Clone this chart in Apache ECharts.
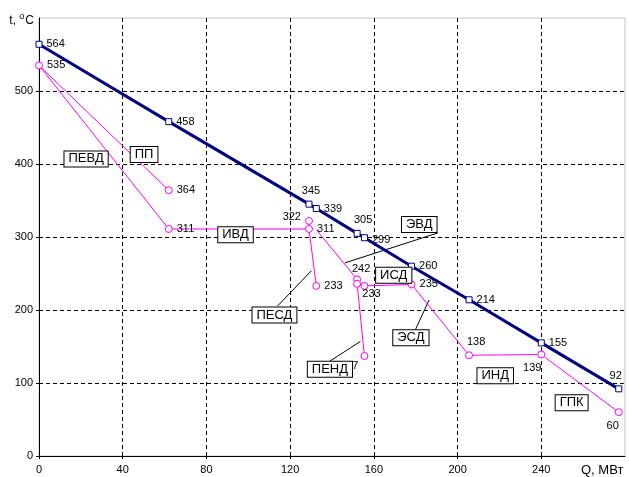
<!DOCTYPE html>
<html><head><meta charset="utf-8">
<script src="https://cdn.jsdelivr.net/npm/echarts@6/dist/echarts.min.js"></script>
<style>html,body{margin:0;padding:0;background:#fff}#c{width:629px;height:477px}</style>
</head><body><div id="c"></div><script>
// ---- data ----
const xTickLabels = ['0','40','80','120','160','200','240','280'];
const yTickLabels = ['0','100','200','300','400','500','600'];
const mainQ = [0, 62, 129, 132.5, 152, 155.5, 178, 205.5, 240, 277];
const mainT = [564, 458, 345, 339, 305, 299, 260, 214, 155, 92];
const magQ = [0, 62, 62, 129, 129, 132.5, 152, 152, 155.5, 155.5, 178, 205.5, 240, 277];
const magT = [535, 364, 311, 311, 322, 233, 242, 236, 233, 137, 235, 138, 139, 60];
const magShowLabel = [1,1,1,1,1,1,1,0,1,1,1,1,1,1];
const paths = [[0,1],[0,2],[2,3],[4,3,5],[6,7,9],[7,8,10],[10,11],[11,12],[12,13]];
const evdLine = [[132.5,310],[152,242]];
const boxNames = ['ПЕВД','ПП','ИВД','ЭВД','ИСД','ПЕСД','ЭСД','ПЕНД','ИНД','ГПК'];
const boxQ = [22.5, 50.2, 93.9, 181.7, 169.5, 112.5, 177.7, 139, 218, 254.5];
const boxT = [407, 413, 303, 317, 247.6, 193, 162, 119, 110, 73];
const leaders = [
  [[190.6,305.6],[146.1,264.5]],
  [[114,205.5],[130.2,253.9]],
  [[139,130],[153.6,157]],
  [[180,174],[186.4,213.7]]
];
// ---- label styling ----
const mainLabelPos = ['right','right','top','right','top','right','right','right','right','top'];
const mainLabelOff = [[0,0],[0,0],[2,0],[0,0],[6,0],[0,2],[0,0],[0,0],[0,0],[-3,0]];
const magLabelPos = ['right','right','right','right','left','right','top','right','bottom','left','right','top','bottom','bottom'];
const magLabelOff = [[0,0],[0,0],[0,0],[0,0],[0,-4],[0,0],[4,3],[0,0],[7,-5],[2,10],[0,0],[7,0],[-9,0],[-6,0]];

const FONT = 'Liberation Sans, Arial, sans-serif';
const xMin = +xTickLabels[0], xMax = +xTickLabels[xTickLabels.length-1];
const xInt = +xTickLabels[1] - xMin;
const yMin = +yTickLabels[0], yMax = +yTickLabels[yTickLabels.length-1];
const yInt = +yTickLabels[1] - yMin;

const series = [];
// leader lines
leaders.forEach(l => series.push({
  type:'line', data:l, showSymbol:false, silent:true, z:3,
  lineStyle:{color:'#000', width:1}
}));
// magenta paths
paths.forEach(p => series.push({
  type:'line', data:p.map(i=>[magQ[i], magT[i]]), showSymbol:false, silent:true, z:4,
  lineStyle:{color:'#ff00ff', width:1}
}));
series.push({
  type:'line', data:evdLine, showSymbol:false, silent:true, z:4,
  lineStyle:{color:'#ff00ff', width:1}
});
// main line
series.push({
  type:'line', z:5,
  data: mainQ.map((q,i)=>({value:[q, mainT[i]], label:{position:mainLabelPos[i], offset:mainLabelOff[i]}})),
  symbol:'rect', symbolSize:6, showAllSymbol:true,
  lineStyle:{color:'#000080', width:3},
  itemStyle:{color:'#fff', borderColor:'#000080', borderWidth:1, opacity:1},
  label:{show:true, color:'#000', fontFamily:FONT, fontSize:11, distance:4, formatter:p=>String(p.value[1])}
});
// magenta points
series.push({
  type:'scatter', z:6,
  data: magQ.map((q,i)=>({value:[q, magT[i]], label:{show:!!magShowLabel[i], position:magLabelPos[i], offset:magLabelOff[i]}})),
  symbol:'circle', symbolSize:7,
  itemStyle:{color:'#fff', borderColor:'#ff00ff', borderWidth:1, opacity:1},
  label:{color:'#000', fontFamily:FONT, fontSize:11, distance:4, formatter:p=>String(p.value[1])}
});
// boxes
series.push({
  type:'scatter', z:10,
  data: boxQ.map((q,i)=>({value:[q, boxT[i]], name:boxNames[i]})),
  symbolSize:1, itemStyle:{color:'rgba(0,0,0,0)', opacity:1},
  label:{show:true, position:'inside', formatter:p=>p.name, color:'#000', fontFamily:FONT, fontSize:13,
    backgroundColor:'#fff', borderColor:'#000', borderWidth:1, padding:[1,4,0,4], lineHeight:14}
});

const chart = echarts.init(document.getElementById('c'), null, {renderer:'canvas'});
chart.setOption({
  animation:false,
  backgroundColor:'#fff',
  grid:{left:39, right:4, top:18, bottom:21, show:true, borderColor:'#c4c4c4', borderWidth:1, containLabel:false},
  xAxis:{
    type:'value', min:xMin, max:xMax, interval:xInt,
    name:'Q, МВт', nameLocation:'end', nameGap:-44,
    nameTextStyle:{align:'left', verticalAlign:'top', padding:[8,0,0,0], fontFamily:FONT, fontSize:13, color:'#000'},
    axisLine:{show:true, lineStyle:{color:'#000', width:1}},
    axisTick:{show:true, length:3, lineStyle:{color:'#000'}},
    axisLabel:{color:'#000', fontFamily:FONT, fontSize:11, margin:8, showMaxLabel:false},
    splitLine:{show:true, showMinLine:false, showMaxLine:false, lineStyle:{color:'#000', width:1, type:[4,3]}}
  },
  yAxis:{
    type:'value', min:yMin, max:yMax, interval:yInt,
    name:'t, {s|o}C', nameLocation:'end', nameGap:-3,
    nameTextStyle:{align:'right', verticalAlign:'middle', padding:[0,5,0,0], fontFamily:FONT, fontSize:12, color:'#000',
      rich:{s:{fontSize:9, fontFamily:FONT, color:'#000', padding:[0,1,8,0]}}},
    axisLine:{show:true, lineStyle:{color:'#000', width:1}},
    axisTick:{show:true, length:3, lineStyle:{color:'#000'}},
    axisLabel:{color:'#000', fontFamily:FONT, fontSize:11, margin:6, showMaxLabel:false},
    splitLine:{show:true, showMinLine:false, showMaxLine:false, lineStyle:{color:'#000', width:1, type:[4,3]}}
  },
  series: series
});
</script></body></html>
